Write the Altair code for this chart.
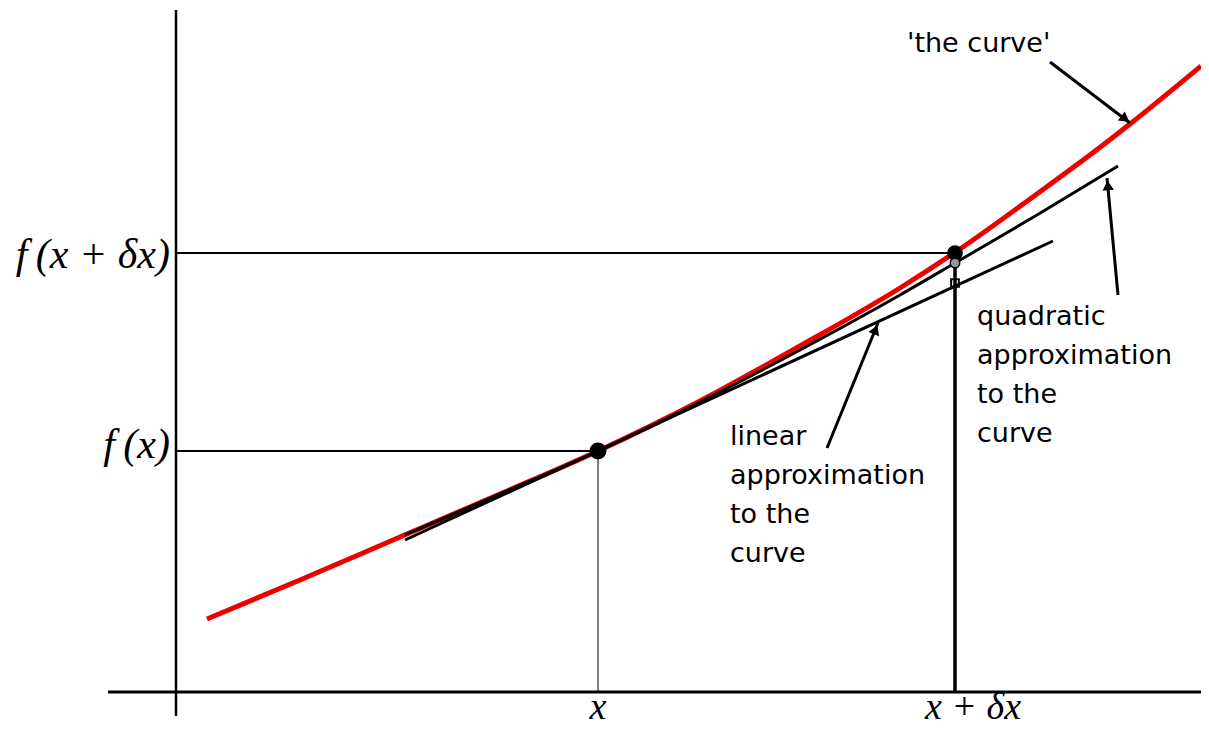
import altair as alt
import pandas as pd

# Coordinates: horizontal / vertical distance from the axes' origin
curve_x = [31, 124, 224, 324, 422, 524, 624, 724, 784, 854, 931, 954, 1025]
curve_y = [73, 112, 155, 198, 241, 291, 346, 404, 443, 493, 550, 568, 626]

linear_x = [229, 877]
linear_y = [152, 451]

quad_x = [229, 324, 422, 524, 624, 724, 779, 861, 942]
quad_y = [157, 198, 241, 290, 342, 397, 429, 477, 526]

x0, fx0 = 422, 241
x1, fx1 = 779, 439
quad_at_x1 = 429
lin_at_x1 = 409

XMIN, XMAX = -168, 1025
YMIN, YMAX = -36, 684

xs = alt.Scale(domain=[XMIN, XMAX], nice=False, zero=False)
ys = alt.Scale(domain=[YMIN, YMAX], nice=False, zero=False)
X = lambda f: alt.X(f, type="quantitative", scale=xs, axis=None)
Y = lambda f: alt.Y(f, type="quantitative", scale=ys, axis=None)

def line(xv, yv, color, width):
    df = pd.DataFrame({"x": xv, "y": yv, "o": range(len(xv))})
    return alt.Chart(df).mark_line(color=color, strokeWidth=width, clip=False,
                                   interpolate="monotone").encode(
        x=X("x"), y=Y("y"), order="o:Q")

def seg(xa, ya, xb, yb, width, color="black"):
    df = pd.DataFrame({"x": [xa], "y": [ya], "x2": [xb], "y2": [yb]})
    return alt.Chart(df).mark_rule(color=color, strokeWidth=width).encode(
        x=X("x"), y=Y("y"), x2="x2", y2="y2")

layers = []
# axes
layers.append(seg(-68, 0, XMAX, 0, 3))
layers.append(seg(0, -24, 0, 682, 2.5))
# guide lines
layers.append(seg(0, fx0, x0, fx0, 2))
layers.append(seg(0, fx1, x1, fx1, 2))
layers.append(seg(x0, 0, x0, fx0, 1))
layers.append(seg(x1, 0, x1, fx1, 3.5))
# curve and approximations
layers.append(line(curve_x, curve_y, "#ee0000", 5))
layers.append(line(quad_x, quad_y, "black", 3))
layers.append(line(linear_x, linear_y, "black", 3))

# points
pts = pd.DataFrame({"x": [x0, x1, x1], "y": [fx0, fx1, quad_at_x1],
                    "c": ["black", "black", "#999999"], "s": [240, 200, 90]})
layers.append(alt.Chart(pts).mark_point(filled=True, opacity=1, shape="circle", strokeWidth=1.5, stroke="black").encode(
    x=X("x"), y=Y("y"), fill=alt.Fill("c:N", scale=None), size=alt.Size("s:Q", scale=None)))
layers.append(alt.Chart(pd.DataFrame({"x": [x1], "y": [lin_at_x1]})).mark_point(
    shape="square", filled=False, color="black", strokeWidth=2, size=60, opacity=1).encode(x=X("x"), y=Y("y")))

# arrows
arrows = pd.DataFrame({
    "x": [874, 942, 651], "y": [630, 397, 244],
    "x2": [954, 931, 702], "y2": [569, 514, 369],
    "hx": [948, 932, 699], "hy": [574, 505, 361],
    "ang": [127, 355, 22],
})
layers.append(alt.Chart(arrows).mark_rule(color="black", strokeWidth=3).encode(
    x=X("x"), y=Y("y"), x2="x2", y2="y2"))
layers.append(alt.Chart(arrows).mark_point(shape="triangle", filled=True, color="black", size=130, opacity=1).encode(
    x=X("hx"), y=Y("hy"), angle=alt.Angle("ang:Q", scale=None)))

# math labels
math = pd.DataFrame({
    "x": [-6, -6, x0, 797], "y": [424, 234, -27, -27],
    "t": ["f\u2009(x + δx)", "f\u2009(x)", "x", "x + δx"],
    "a": ["right", "right", "center", "center"],
    "s": [42, 42, 38, 38],
})
for a in ["right", "center"]:
    sub = math[math.a == a]
    layers.append(alt.Chart(sub).mark_text(
        font="Liberation Serif", fontStyle="italic", fontSize=int(sub.s.iloc[0]), align=a, baseline="alphabetic",
        color="black").encode(x=X("x"), y=Y("y"), text="t:N"))

# annotations
notes = pd.DataFrame({
    "x": [731, 801, 554], "y": [640, 367, 247],
    "t": ["'the curve'", "quadratic\napproximation\nto the\ncurve", "linear\napproximation\nto the\ncurve"],
})
layers.append(alt.Chart(notes).mark_text(
    font="DejaVu Sans", fontSize=27, align="left", baseline="alphabetic", lineBreak="\n",
    lineHeight=39, color="black").encode(x=X("x"), y=Y("y"), text="t:N"))

chart = alt.layer(*layers).properties(
    width=1193, height=720, padding=0, autosize=alt.AutoSizeParams(type="none"),
    background="white"
).configure_view(stroke=None)

chart.save("out.html", embed_options={"renderer": "svg", "actions": False})
